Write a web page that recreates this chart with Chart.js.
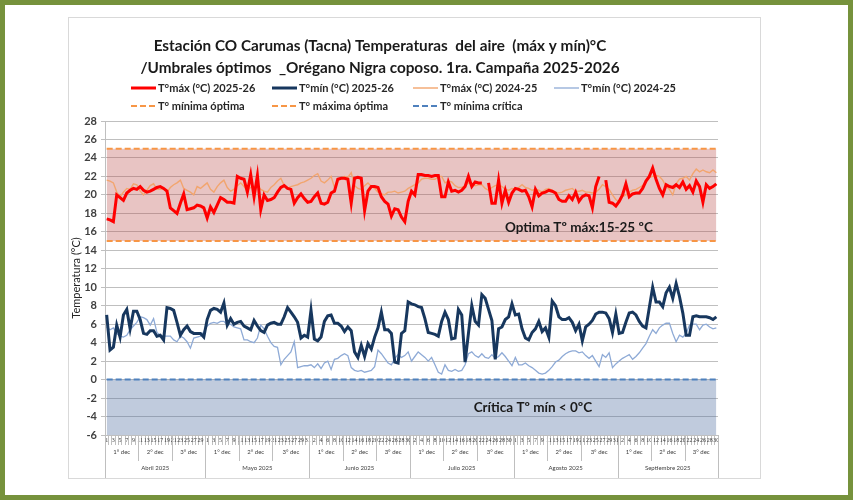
<!DOCTYPE html>
<html>
<head>
<meta charset="utf-8">
<script src="https://cdn.jsdelivr.net/npm/chart.js@4.4.1/dist/chart.umd.min.js"></script>
<style>
    body { margin: 0; background: #fff; }
    #wrap { position: relative; width: 853px; height: 500px; }
</style>
</head>
<body>
<div id="wrap"><canvas id="myChart" width="853" height="500"></canvas></div>
<script>
// axis groups
var monthNames = ["Abril 2025", "Mayo 2025", "Junio 2025", "Julio 2025", "Agosto 2025", "Septiembre 2025"];
var monthDays = [30, 31, 30, 31, 31, 30];
var decadeNames = ["1° dec", "2° dec", "3° dec"];

// T max 2025-26 (one row per month, Apr..Sep)
var tmax2526 = [
    17.4, 17.3, 17.1, 20.0, 19.7, 19.4, 20.2, 20.5, 20.7, 20.6, 20.9, 20.5, 20.3, 20.4, 20.6, 20.8, 20.9, 20.7, 20.4, 18.6, 18.3, 18.0, 19.1, 20.1, 18.4, 18.5, 18.6, 18.9, 18.8, 18.6,
    17.5, 18.7, 18.1, 18.9, 19.7, 19.5, 19.2, 19.2, 19.1, 22.0, 21.8, 21.7, 20.3, 22.2, 19.8, 22.1, 18.4, 20.0, 19.4, 19.5, 19.7, 20.3, 20.8, 21.0, 20.7, 20.6, 19.1, 19.7, 20.1, 19.6, 19.2,
    19.3, 19.8, 20.2, 19.1, 19.0, 19.2, 20.2, 20.4, 21.7, 21.8, 21.8, 21.7, 19.1, 21.8, 21.9, 21.8, 18.3, 20.4, 20.9, 20.9, 20.8, 19.8, 19.3, 19.0, 17.7, 18.5, 18.4, 17.6, 17.1, 19.3,
    20.4, 20.0, 22.2, 22.2, 22.1, 22.1, 22.0, 22.1, 22.1, 19.8, 19.8, 21.4, 20.4, 20.5, 20.3, 20.5, 20.9, 22.0, 20.9, 21.4, 21.3, 21.3, null, 21.3, 19.1, 19.1, 21.6, 19.1, 20.5, 19.2, 20.2,
    20.7, 20.6, 20.4, 20.5, 19.8, 18.7, 20.6, 19.9, 20.2, 20.3, 20.5, 20.4, 20.2, 19.5, 19.3, 19.3, 19.9, 19.5, 20.3, 19.3, 19.8, 20.0, 19.9, 18.6, 20.9, 22.0, null, 21.6, 19.2, 19.1, 18.8,
    19.3, 20.0, 21.2, 19.8, 20.1, 20.2, 20.2, 20.7, 21.5, 22.0, 22.9, 21.7, 20.7, 20.0, 21.1, 20.9, 20.8, 21.1, 20.8, 21.4, 20.6, 21.0, 20.3, 21.5, 20.9, 19.2, 21.1, 20.7, 20.9, 21.2
];
// T min 2025-26
var tmin2526 = [
    7.0, 3.2, 3.5, 5.9, 4.6, 7.0, 7.6, 5.5, 7.4, 7.4, 6.5, 5.0, 4.9, 5.3, 5.3, 4.7, 4.8, 4.3, 7.8, 7.7, 7.5, 6.2, 4.8, 5.4, 5.8, 5.2, 5.0, 5.0, 5.0, 4.6,
    6.5, 7.5, 7.7, 7.6, 7.3, 8.3, 5.9, 6.6, 6.0, 6.2, 6.3, 5.8, 5.6, 5.4, 6.4, 5.8, 5.3, 5.1, 5.9, 6.1, 6.2, 6.0, 6.0, 6.8, 7.8, 7.3, 6.8, 6.2, 4.5, 4.8, 4.6,
    7.5, 4.4, 4.2, 4.6, 6.3, 6.9, 7.0, 6.1, 6.1, 5.8, 5.2, 5.7, 5.3, 3.0, 2.4, 3.7, 2.5, 3.9, 3.3, 4.6, 5.6, 7.3, 5.4, 5.4, 5.0, 1.9, 1.8, 5.0, 5.3, 8.4,
    8.2, 8.1, 7.9, 7.8, 6.6, 5.1, 5.0, 4.9, 4.7, 6.3, 7.3, 6.5, 4.4, 4.5, 7.6, 7.0, 1.9, 5.0, 8.0, 6.3, 5.9, 9.2, 8.8, 7.6, 6.4, 2.2, 5.5, 5.7, 6.5, 6.8, 8.2,
    7.0, 7.1, 5.5, 4.5, 4.3, 5.1, 5.5, 6.3, 5.2, 5.6, 4.6, 8.5, 8.0, 6.8, 6.5, 6.5, 6.7, 6.2, 5.3, 6.0, 4.2, 5.7, 6.0, 6.4, 7.1, 7.3, 7.3, 7.2, 6.6, 5.1, 7.1,
    5.0, 5.1, 6.2, 7.2, 7.3, 7.0, 6.3, 5.8, 5.6, 7.8, 10.0, 8.4, 8.4, 7.9, 9.4, 10.0, 8.8, 10.4, 9.0, 7.2, 4.8, 4.8, 6.8, 6.9, 6.8, 6.8, 6.8, 6.7, 6.5, 6.8
];
// T max 2024-25
var tmax2425 = [
    21.6, 21.5, 21.3, 20.3, 19.8, 20.3, 20.7, 20.6, 21.2, 21.1, 20.4, 20.0, 20.5, 21.0, 21.2, 20.6, 20.6, 20.7, 20.3, 20.8, 21.1, 21.3, 21.6, 20.7, 20.5, 20.3, 20.0, 20.9, 20.7, 21.0,
    21.3, 20.6, 20.3, 20.9, 21.3, 21.6, 20.8, 20.4, 20.6, 21.0, 21.3, 20.9, 20.5, 20.8, 20.9, 21.0, 20.6, 20.4, 20.3, 20.8, 21.1, 21.5, 21.8, 21.0, 20.7, 20.9, 21.0, 21.1, 21.3, 21.4, 21.6,
    21.8, 22.1, 22.3, 21.5, 21.3, 21.6, 22.0, 20.8, 21.6, 21.8, 22.0, 21.9, 22.4, 21.0, 20.7, 20.6, 21.0, 21.3, 20.9, 20.7, 20.3, 20.1, 20.0, 20.3, 20.3, 20.4, 20.2, 20.3, 20.4, 20.7,
    20.9, 21.1, 21.3, 21.7, 21.8, 21.8, 21.7, 21.7, 22.0, 22.0, 21.3, 21.5, 21.4, 21.0, 20.8, 20.8, 21.0, 21.3, 21.2, 21.0, 21.1, 21.1, 20.7, 20.5, 20.8, 21.0, 21.1, 20.9, 20.6, 20.5, 20.7,
    20.6, 20.8, 21.1, 20.8, 20.7, 20.5, 20.6, 20.5, 20.3, 20.6, 20.7, 20.5, 20.3, 20.2, 20.3, 20.5, 20.6, 20.7, 20.4, 20.4, 20.5, 20.3, 20.3, 20.2, 20.3, 20.6, 21.1, 20.9, 20.6, 20.0, 19.5,
    19.2, 19.8, 20.0, 20.3, 20.5, 20.6, 20.8, 21.0, 21.4, 21.9, 22.0, 22.1, 22.0, 21.6, 20.9, 20.6, 20.0, 21.2, 21.7, 21.8, 22.0, 21.6, 22.3, 22.8, 22.5, 22.7, 22.5, 22.4, 22.7, 22.4
];
// T min 2024-25
var tmin2425 = [
    5.7, 5.4, 5.6, 5.0, 4.7, 4.6, 4.8, 5.4, 5.8, 6.2, 6.8, 6.7, 6.5, 5.9, 6.6, 5.1, 4.8, 4.7, 4.7, 4.7, 4.3, 4.1, 4.7, 4.5, 4.1, 3.4, 4.5, 4.6, 4.7, 5.2,
    5.8, 6.1, 6.2, 6.1, 6.3, 6.3, 5.9, 6.0, 5.7, 5.6, 5.5, 4.3, 4.3, 4.1, 4.0, 4.5, 5.9, 5.5, 4.7, 4.0, 3.6, 3.5, 1.6, 2.2, 2.6, 3.0, 4.1, 1.3, 1.4, 1.5, 1.5,
    1.6, 1.3, 1.7, 1.2, 1.8, 2.0, 1.1, 2.2, 2.3, 2.6, 2.8, 2.6, 1.3, 1.0, 0.9, 1.0, 0.8, 0.9, 1.0, 1.4, 3.2, 2.8, 2.3, 1.8, 1.6, 2.3, 2.7, 2.4, 2.6, 3.0,
    2.0, 2.5, 3.0, 2.7, 2.4, 2.0, 2.4, 1.6, 0.8, 0.6, 1.6, 1.0, 0.9, 1.1, 0.9, 1.0, 1.6, 2.8, 3.0, 2.6, 2.4, 2.8, 2.4, 2.3, 2.7, 2.3, 2.5, 2.9, 2.5, 2.0, 1.5,
    2.4, 1.6, 1.6, 1.8, 1.5, 1.3, 1.0, 0.7, 0.6, 0.7, 1.0, 1.4, 1.9, 2.1, 2.5, 2.8, 3.0, 3.1, 3.1, 2.9, 3.0, 2.6, 2.3, 2.6, 2.0, 1.4, 2.7, 2.4, 2.9, 1.3, 1.7,
    2.0, 2.3, 2.5, 2.7, 2.2, 2.5, 2.9, 3.4, 3.9, 4.7, 5.4, 5.0, 5.6, 5.9, 6.1, 6.1, 5.0, 4.1, 4.8, 4.6, 5.0, 5.9, 6.0, 6.0, 5.4, 5.9, 6.0, 5.7, 5.5, 5.6
];
// thresholds
var optMin = 15;
var optMax = 25;
var critMin = 0;

var titleLines = ["Estación CO Carumas (Tacna) Temperaturas  del aire  (máx y mín)°C",
    "/Umbrales óptimos  _Orégano Nigra coposo. 1ra. Campaña 2025-2026"];

// day labels: 1..n for each month
var dayLabels = [];
monthDays.forEach(function (n) {
    for (var d = 1; d <= n; d++) dayLabels.push(String(d));
});
var flat = function (v) { return dayLabels.map(function () { return v; }); };

var FONT = 'Lato, "Open Sans", sans-serif';

var decorPlugin = {
    id: 'decor',
    beforeDraw: function (chart) {
        var ctx = chart.ctx;
        ctx.save();
        ctx.fillStyle = '#fff';
        ctx.fillRect(0, 0, chart.width, chart.height);
        ctx.strokeStyle = '#76923c';
        ctx.lineWidth = 5;
        ctx.strokeRect(2.5, 2.5, chart.width - 5, chart.height - 5);
        ctx.strokeStyle = '#d9d9d9';
        ctx.lineWidth = 1;
        ctx.strokeRect(68.5, 17.5, 692, 461);
        ctx.restore();
    },
    afterDraw: function (chart) {
        var ctx = chart.ctx;
        var x = chart.scales.x, y = chart.scales.y;
        var area = chart.chartArea;
        ctx.save();

        // title, sized to the reference width
        ctx.fillStyle = '#1a1a1a';
        ctx.textAlign = 'center';
        ctx.textBaseline = 'middle';
        ctx.font = 'bold 16px ' + FONT;
        var size = 16 * 453 / ctx.measureText(titleLines[0]).width;
        ctx.font = 'bold ' + size.toFixed(1) + 'px ' + FONT;
        ctx.fillText(titleLines[0], 380, 46);
        ctx.fillText(titleLines[1], 380, 68);

        // legend
        var rows = [[0, 1, 2, 3], [4, 5, 6]];
        var cols = [131, 272, 413, 554];
        var rowY = [88, 106];
        ctx.font = 'bold 11px ' + FONT;
        ctx.textAlign = 'left';
        rows.forEach(function (row, r) {
            row.forEach(function (i, c) {
                var ds = chart.data.datasets[i];
                ctx.beginPath();
                ctx.strokeStyle = ds.borderColor;
                ctx.lineWidth = ds.borderWidth;
                ctx.setLineDash(ds.borderDash || []);
                ctx.moveTo(cols[c], rowY[r]);
                ctx.lineTo(cols[c] + 25, rowY[r]);
                ctx.stroke();
                ctx.setLineDash([]);
                ctx.fillStyle = '#262626';
                ctx.fillText(ds.label, cols[c] + 27, rowY[r]);
            });
        });

        // band captions
        ctx.font = 'bold 13.5px ' + FONT;
        ctx.textAlign = 'center';
        ctx.fillStyle = '#1a1a1a';
        ctx.fillText('Optima Tº máx:15-25 ºC', area.left + area.width * 0.773, y.getPixelForValue(16.5));
        ctx.fillText('Crítica Tº mín < 0ºC', area.left + area.width * 0.698, y.getPixelForValue(-3));

        // decade and month rows under the day numbers
        var half = (x.getPixelForValue(1) - x.getPixelForValue(0)) / 2;
        var top = x.top;
        ctx.font = '6px ' + FONT;
        ctx.fillStyle = '#404040';
        ctx.strokeStyle = '#bfbfbf';
        ctx.lineWidth = 1;
        var start = 0;
        monthDays.forEach(function (n, m) {
            var cuts = [0, 10, 20, n];
            for (var k = 0; k < 3; k++) {
                var a = x.getPixelForValue(start + cuts[k]) - half;
                var b = x.getPixelForValue(start + cuts[k + 1] - 1) + half;
                ctx.fillText(decadeNames[k], (a + b) / 2, top + 17);
                ctx.beginPath();
                ctx.moveTo(Math.round(a) + 0.5, top);
                ctx.lineTo(Math.round(a) + 0.5, top + 26);
                ctx.stroke();
            }
            var ma = x.getPixelForValue(start) - half;
            var mb = x.getPixelForValue(start + n - 1) + half;
            ctx.beginPath();
            ctx.moveTo(Math.round(ma) + 0.5, top);
            ctx.lineTo(Math.round(ma) + 0.5, top + 43);
            ctx.moveTo(Math.round(mb) + 0.5, top);
            ctx.lineTo(Math.round(mb) + 0.5, top + 43);
            ctx.stroke();
            ctx.fillText(monthNames[m], (ma + mb) / 2, top + 33);
            start += n;
        });
        ctx.restore();
    }
};

var ctx = document.getElementById('myChart');
new Chart(ctx, {
    type: 'line',
    data: {
        labels: dayLabels,
        datasets: [
            { label: 'T°máx (°C) 2025-26', data: tmax2526, borderColor: '#ff0000', borderWidth: 3 },
            { label: 'T°mín (°C) 2025-26', data: tmin2526, borderColor: '#17375e', borderWidth: 3 },
            { label: 'T°máx (°C) 2024-25', data: tmax2425, borderColor: '#f2a56e', borderWidth: 1.4 },
            { label: 'T°mín (°C) 2024-25', data: tmin2425, borderColor: '#8eaad6', borderWidth: 1.3 },
            { label: 'T° mínima óptima', data: flat(optMin), borderColor: '#f79646', borderWidth: 2, borderDash: [6, 3] },
            { label: 'T° máxima óptima', data: flat(optMax), borderColor: '#f79646', borderWidth: 2, borderDash: [6, 3],
              fill: '-1', backgroundColor: 'rgba(185, 75, 72, 0.33)' },
            { label: 'T° mínima crítica', data: flat(critMin), borderColor: '#4f81bd', borderWidth: 2, borderDash: [6, 3],
              fill: 'start', backgroundColor: 'rgba(79, 110, 160, 0.36)' }
        ]
    },
    options: {
        responsive: false,
        animation: false,
        layout: { padding: { left: 68, top: 121, right: 135, bottom: 22 } },
        elements: { point: { radius: 0 }, line: { tension: 0 } },
        plugins: {
            legend: { display: false },
            title: { display: false },
            tooltip: { enabled: false }
        },
        scales: {
            x: {
                offset: true,
                grid: { drawOnChartArea: false, tickLength: 10, color: '#bfbfbf', offset: true },
                border: { color: '#bfbfbf' },
                ticks: {
                    autoSkip: false, maxRotation: 0, minRotation: 0, padding: -8,
                    color: '#404040', font: { size: 6, family: '"Liberation Sans Narrow"' },
                    callback: function (v, i) { return i % 2 === 0 ? dayLabels[i] : ''; }
                },
                afterFit: function (s) { s.height = 43; }
            },
            y: {
                min: -6, max: 28,
                ticks: { stepSize: 2, padding: 4, color: '#404040', font: { size: 11, weight: 'bold', family: FONT } },
                grid: { color: '#bfbfbf', tickLength: 4 },
                border: { color: '#bfbfbf' },
                title: { display: true, text: 'Temperatura (°C)', color: '#262626',
                         font: { size: 11, family: FONT }, padding: { top: 2, bottom: 0 } },
                afterFit: function (s) { s.width = 37; }
            }
        }
    },
    plugins: [decorPlugin]
});
</script>
</body>
</html>
